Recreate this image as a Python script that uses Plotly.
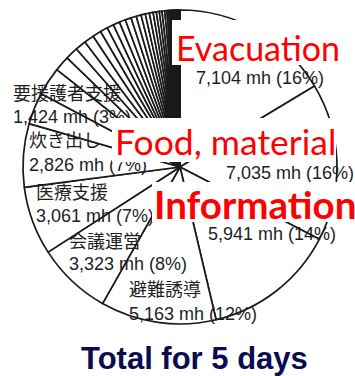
import plotly.graph_objects as go

# ---- data ----
named_labels = ["Evacuation", "Food, material", "Information", "避難誘導", "会議運営", "医療支援", "炊き出し", "要援護者支援"]
named_values = [7104, 7035, 5941, 5163, 3323, 3061, 2826, 1424]
named_pct = ["16%", "16%", "14%", "12%", "8%", "7%", "7%", "3%"]
small_values = [1264, 686, 566, 482, 445, 385, 337, 301, 289, 277, 265, 241, 217, 193, 181,
                169, 144, 132, 120, 120, 96, 84, 72, 66, 60, 54, 48, 42, 36, 30, 24, 24, 18, 18]
small_labels = ["other %d" % (i + 1) for i in range(len(small_values))]
title_text = "Total for 5 days"

W, H = 355, 376
fig = go.Figure()

fig.add_trace(go.Pie(
    labels=named_labels + small_labels,
    values=named_values + small_values,
    sort=False, direction="clockwise", rotation=0,
    textinfo="none", hoverinfo="none", showlegend=False,
    marker=dict(colors=["white"] * (len(named_values) + len(small_values)),
                line=dict(color="#1a1a1a", width=1.7)),
    domain=dict(x=[23 / W, 337 / W], y=[52 / H, 366 / H]),
))


def fmt(v):
    return "{:,} mh".format(v)


lab_pos = {  # name label (left, cy), value label (left, cy)
    "Evacuation": (None, (195, 78)),
    "Food, material": (None, (225, 173)),
    "Information": (None, (207, 234)),
    "避難誘導": ((128, 290), (128, 314)),
    "会議運営": ((68, 242), (68, 264)),
    "医療支援": ((35, 193), (35, 216)),
    "炊き出し": ((28, 141), (28, 165)),
    "要援護者支援": ((12, 94), (12, 117)),
}
anns = []
for name, v, p in zip(named_labels, named_values, named_pct):
    npos, vpos = lab_pos[name]
    items = []
    if npos:
        items.append((npos, name))
    items.append((vpos, "%s (%s)" % (fmt(v), p)))
    for (x, y), t in items:
        anns.append(dict(text=t, x=x, y=y, xref="x", yref="y", xanchor="left", yanchor="middle",
                         showarrow=False, borderpad=0,
                         font=dict(family="Liberation Sans, Noto Sans CJK JP", size=18, color="#1e1e1e")))

# white boxes behind the red labels (drawn after the black labels so they mask them)
boxes = [(172, 20, 342, 65), (112, 118, 336, 162), (152, 182, 355, 222)]
for a, b, c, d in boxes:
    anns.append(dict(text=" ", x=a, y=b, xref="x", yref="y", xanchor="left", yanchor="top",
                     width=c - a, height=d - b, bgcolor="white", borderpad=0, borderwidth=0,
                     showarrow=False, font=dict(size=10)))

red = [("Evacuation", 175, 47, False, 34), ("Food, material", 114, 141, False, 35.5),
       ("Information", 153, 204, True, 38.5)]
for t, x, y, bold, sz in red:
    anns.append(dict(text="<b>%s</b>" % t if bold else t, x=x, y=y, xref="x", yref="y",
                     xanchor="left", yanchor="middle", showarrow=False, borderpad=0,
                     font=dict(family="Lato", size=sz, color="#ff0000")))
anns.append(dict(text="<b>%s</b>" % title_text, x=194, y=358, xref="x", yref="y",
                 xanchor="center", yanchor="middle", showarrow=False,
                 font=dict(family="Liberation Sans", size=31, color="#0b0b4f")))

fig.update_layout(
    width=W, height=H, margin=dict(l=0, r=0, t=0, b=0),
    paper_bgcolor="white", plot_bgcolor="rgba(0,0,0,0)",
    xaxis=dict(range=[0, W], visible=False, domain=[0, 1], fixedrange=True),
    yaxis=dict(range=[H, 0], visible=False, domain=[0, 1], fixedrange=True),
    annotations=anns,
)
fig.write_html("out.html")
